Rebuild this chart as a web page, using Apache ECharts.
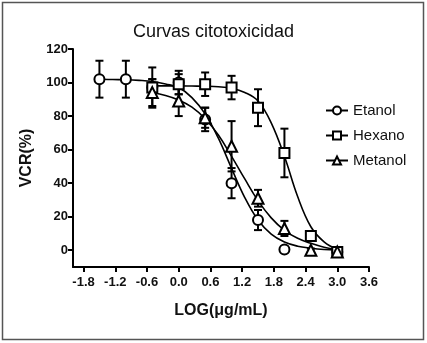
<!DOCTYPE html>
<html>
<head>
<meta charset="utf-8">
<script src="https://cdn.jsdelivr.net/npm/echarts@6/dist/echarts.min.js"></script>
<style>html,body{margin:0;padding:0;background:#fff}#c{width:427px;height:343px}</style>
</head>
<body>
<div id="c"></div>
<script>
// ---- data ----
var seriesNames = ['Etanol', 'Hexano', 'Metanol'];
var xTicks = [-1.8, -1.2, -0.6, 0.0, 0.6, 1.2, 1.8, 2.4, 3.0, 3.6];
var yTicks = [0, 20, 40, 60, 80, 100, 120];

var etanolX   = [-1.5, -1.0, -0.5, 0.0, 0.5, 1.0, 1.5, 2.0, 3.0];
var etanolY   = [102, 102, 97, 100, 78, 40, 18, 0.5, -1];
var etanolErr = [11, 11, 12, 7, 7, 9, 6, 1, 1];

var hexanoX   = [-0.5, 0.0, 0.5, 1.0, 1.5, 2.0, 2.5, 3.0];
var hexanoY   = [97, 99, 99, 97, 85, 58, 8.5, -1];
var hexanoErr = [5, 6, 7, 7, 11, 14.5, 2, 2];

var metanolX   = [-0.5, 0.0, 0.5, 1.0, 1.5, 2.0, 2.5, 3.0];
var metanolY   = [94, 89, 79, 62, 31, 13, 0, -1];
var metanolErr = [8, 9, 6, 15, 5, 4.5, 1, 2];

// fitted curves
var etanolCurveX = [-1.5,-1.25,-1.0,-0.75,-0.5,-0.25,0,0.25,0.5,0.75,1.0,1.25,1.5,1.75,2.0,2.25,2.5,2.75,3.0];
var etanolCurveY = [102,101.8,101.7,101.3,100.6,99.1,97,91,81.3,66.8,48.8,31.4,18,9.6,4.9,2.4,1.2,0.4,0];
var hexanoCurveX = [-0.5,-0.25,0,0.25,0.5,0.75,1.0,1.25,1.5,1.75,2.0,2.25,2.5,2.75,3.0];
var hexanoCurveY = [98,98,98,97.9,97.8,97.5,96.6,94.1,89,76,56,32,14,5,0.5];
var metanolCurveX = [-0.5,-0.25,0,0.25,0.5,0.75,1.0,1.25,1.5,1.75,2.0,2.25,2.5,2.75,3.0];
var metanolCurveY = [93.9,92.3,89.6,85.3,78.4,68.7,56,42.5,29.6,19.3,11.9,7.1,4.1,1.8,0.5];

// ---- build ----
function pairs(xs, ys) { return xs.map(function (x, i) { return [x, ys[i]]; }); }
function triples(xs, ys, es) { return xs.map(function (x, i) { return [x, ys[i], es[i]]; }); }

var FONT = '"Liberation Sans", Arial, sans-serif';
var pts = [
  { name: seriesNames[0], x: etanolX, y: etanolY, e: etanolErr, cx: etanolCurveX, cy: etanolCurveY, sym: 'circle' },
  { name: seriesNames[1], x: hexanoX, y: hexanoY, e: hexanoErr, cx: hexanoCurveX, cy: hexanoCurveY, sym: 'rect' },
  { name: seriesNames[2], x: metanolX, y: metanolY, e: metanolErr, cx: metanolCurveX, cy: metanolCurveY, sym: 'triangle' }
];

function errRender(params, api) {
  var x = api.value(0), m = api.value(1), e = api.value(2);
  var t = api.coord([x, m + e]);
  var b = api.coord([x, m - e]);
  var hw = 4;
  var st = { stroke: '#000', lineWidth: 2 };
  return {
    type: 'group',
    children: [
      { type: 'line', shape: { x1: t[0], y1: t[1], x2: b[0], y2: b[1] }, style: st },
      { type: 'line', shape: { x1: t[0] - hw, y1: t[1], x2: t[0] + hw, y2: t[1] }, style: st },
      { type: 'line', shape: { x1: b[0] - hw, y1: b[1], x2: b[0] + hw, y2: b[1] }, style: st }
    ]
  };
}

var series = [];
pts.forEach(function (p) {
  series.push({
    type: 'line', data: pairs(p.cx, p.cy), smooth: 0.4, symbol: 'none', silent: true,
    lineStyle: { color: '#000', width: 1.6 }, z: 2
  });
});
pts.forEach(function (p) {
  series.push({
    type: 'custom', data: triples(p.x, p.y, p.e), renderItem: errRender,
    encode: { x: 0, y: 1 }, silent: true, z: 3
  });
});
pts.forEach(function (p) {
  series.push({
    name: p.name, type: 'line', data: pairs(p.x, p.y),
    symbol: p.sym, symbolSize: p.sym === 'triangle' ? 11 : 10, showAllSymbol: true,
    lineStyle: { opacity: 0, width: 0.01 },
    itemStyle: { color: '#fff', borderColor: '#000', borderWidth: 2 },
    emphasis: { disabled: true }, z: 4
  });
});

var chart = echarts.init(document.getElementById('c'), null, { renderer: 'canvas' });
chart.setOption({
  animation: false,
  backgroundColor: '#fff',
  title: {
    text: 'Curvas citotoxicidad', left: 'center', top: 18,
    textStyle: { fontFamily: FONT, fontSize: 18, fontWeight: 'normal', color: '#111' }
  },
  legend: {
    data: seriesNames, orient: 'vertical', left: 320, top: 98,
    itemWidth: 22, itemHeight: 10, itemGap: 10,
    textStyle: { fontFamily: FONT, fontSize: 15, color: '#111' },
    lineStyle: { color: '#000', width: 2, opacity: 1 },
    itemStyle: { color: '#fff', borderColor: '#000', borderWidth: 2 },
    selectedMode: false
  },
  grid: { left: 73, top: 49, right: 58, bottom: 76 },
  xAxis: {
    type: 'value', min: -2.0, max: 3.6,
    name: 'LOG(μg/mL)', nameLocation: 'middle', nameGap: 36,
    nameTextStyle: { fontFamily: FONT, fontSize: 16, fontWeight: 'bold', color: '#111' },
    axisLine: { show: true, onZero: false, lineStyle: { color: '#000', width: 2 } },
    axisTick: { show: true, length: 5, lineStyle: { width: 2, color: '#000' }, customValues: xTicks },
    axisLabel: { customValues: xTicks, fontFamily: FONT, fontSize: 13, fontWeight: 'bold', color: '#111', margin: 9,
      formatter: function (v) { return v.toFixed(1); } },
    splitLine: { show: false }
  },
  yAxis: {
    type: 'value', min: -10, max: 120,
    name: 'VCR(%)', nameLocation: 'middle', nameGap: 38,
    nameTextStyle: { fontFamily: FONT, fontSize: 16, fontWeight: 'bold', color: '#111' },
    axisLine: { show: true, onZero: false, lineStyle: { color: '#000', width: 2 } },
    axisTick: { show: true, length: 5, lineStyle: { width: 2, color: '#000' }, customValues: yTicks },
    axisLabel: { customValues: yTicks, fontFamily: FONT, fontSize: 13, fontWeight: 'bold', color: '#111', margin: 5 },
    splitLine: { show: false }
  },
  graphic: [{
    type: 'rect', shape: { x: 2.5, y: 2.5, width: 421, height: 337 },
    style: { fill: 'none', stroke: '#555', lineWidth: 1.5 }, silent: true, z: 100
  }],
  series: series
});
</script>
</body>
</html>
